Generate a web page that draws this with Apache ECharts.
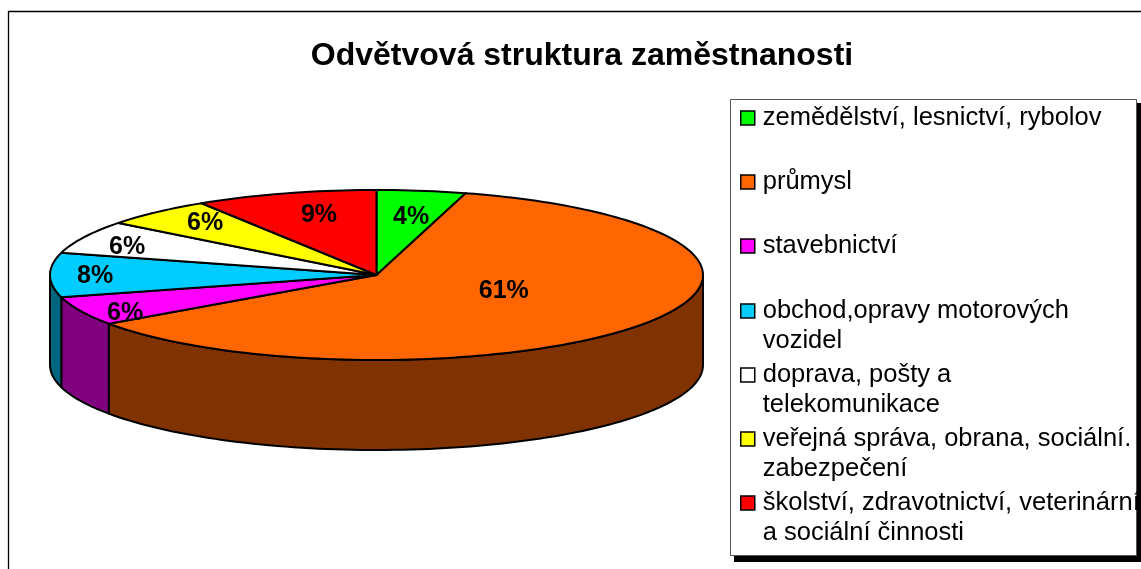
<!DOCTYPE html>
<html><head><meta charset="utf-8">
<style>html,body{margin:0;padding:0;background:#fff}#c{width:1141px;height:569px}</style>
<script src="https://cdn.jsdelivr.net/npm/echarts@6/dist/echarts.min.js"></script>
</head><body><div id="c"></div>
<script>
const titleText = 'Odvětvová struktura zaměstnanosti';
const categories = [
  'zemědělství, lesnictví, rybolov',
  'průmysl',
  'stavebnictví',
  'obchod,opravy motorových vozidel',
  'doprava, pošty a telekomunikace',
  'veřejná správa, obrana, sociální. zabezpečení',
  'školství, zdravotnictví, veterinární a sociální činnosti'
];
const legendLines = [
  ['zemědělství, lesnictví, rybolov'],
  ['průmysl'],
  ['stavebnictví'],
  ['obchod,opravy motorových', 'vozidel'],
  ['doprava, pošty a', 'telekomunikace'],
  ['veřejná správa, obrana, sociální.', 'zabezpečení'],
  ['školství, zdravotnictví, veterinární', 'a sociální činnosti']
];
const values = [4.4, 60.9, 5.5, 8.4, 6.3, 5.5, 9.0];
const topColors = ['#00ff00', '#ff6600', '#ff00ff', '#00ccff', '#ffffff', '#ffff00', '#ff0000'];
const sideColors = ['#008000', '#803300', '#800080', '#006680', '#808080', '#808000', '#800000'];

// layout and styling
const pie = { cx: 376.5, cy: 275, rx: 326.5, ry: 85, depth: 90 };
const labelPlace = [[0.106,-0.71],[0.39,0.155],[-0.77,0.415],[-0.862,-0.012],[-0.764,-0.36],[-0.525,-0.64],[-0.176,-0.735]];
const legendCentres = [118, 182, 246, 311, 375, 439, 503];
const LINE = 30, FONT = 'Liberation Sans, Arial, sans-serif';

const total = values.reduce((a, b) => a + b, 0);
const toAngle = v => v / total * 360;
const starts = values.map((_, i) => toAngle(values.slice(0, i).reduce((a, b) => a + b, 0)));
const pt = (deg, dy) => {
  const r = deg * Math.PI / 180;
  return [pie.cx + pie.rx * Math.sin(r), pie.cy - pie.ry * Math.cos(r) + (dy || 0)];
};
const arc = (a0, a1, dy) => {
  const out = [], n = Math.max(1, Math.ceil((a1 - a0) / 1.5));
  for (let k = 0; k <= n; k++) out.push(pt(a0 + (a1 - a0) * k / n, dy));
  return out;
};
const edge = { stroke: '#000', lineWidth: 2, lineJoin: 'round' };

function makeRender(i) {
  return function (params, api) {
    const a0 = starts[i], a1 = a0 + toAngle(api.value(0));
    const children = [];
    const s0 = Math.max(a0, 90), s1 = Math.min(a1, 270);
    if (s1 > s0) {
      children.push({ type: 'polygon', z2: 1,
        shape: { points: arc(s0, s1, 0).concat(arc(s0, s1, pie.depth).reverse()) },
        style: Object.assign({ fill: sideColors[i] }, edge) });
    }
    children.push({ type: 'polygon', z2: 2,
      shape: { points: [[pie.cx, pie.cy]].concat(arc(a0, a1, 0)) },
      style: Object.assign({ fill: topColors[i] }, edge) });
    children.push({ type: 'text', z2: 3,
      style: { text: Math.round(api.value(0) / total * 100) + '%',
        x: pie.cx + labelPlace[i][0] * pie.rx, y: pie.cy + labelPlace[i][1] * pie.ry + 2.5,
        align: 'center', verticalAlign: 'middle',
        font: 'bold 25px ' + FONT, fill: '#000' } });
    return { type: 'group', children };
  };
}

const chart = echarts.init(document.getElementById('c'), null, { renderer: 'canvas' });
chart.setOption({
  animation: false,
  backgroundColor: '#fff',
  title: { text: titleText, left: 582, top: 40, textAlign: 'center', padding: 0,
    textStyle: { fontFamily: FONT, fontWeight: 'bold', fontSize: 32, color: '#000' } },
  graphic: [
    { type: 'polyline', z: 0, shape: { points: [[8.5, 569], [8.5, 11.5], [1141, 11.5]] },
      style: { stroke: '#000', lineWidth: 1.3, fill: 'none' } },
    { type: 'rect', z: 0, shape: { x: 734, y: 103, width: 410, height: 459 }, style: { fill: '#000' } },
    { type: 'rect', z: 1, shape: { x: 730.5, y: 99.5, width: 406, height: 456 },
      style: { fill: '#fff', stroke: '#555', lineWidth: 1 } }
  ],
  legend: categories.map((name, i) => {
    const two = legendLines[i].length > 1;
    return {
      data: [name], orient: 'vertical', left: 740, padding: 0, z: 10,
      top: legendCentres[i] - (two ? LINE * 1.5 : LINE / 2),
      itemWidth: 14, itemHeight: 14, selectedMode: false,
      icon: 'rect',
      itemStyle: { borderColor: '#000', borderWidth: 1.5 },
      formatter: () => (two ? '\n' : '') + legendLines[i].join('\n'),
      textStyle: { fontFamily: FONT, fontSize: 25.5, color: '#000', lineHeight: LINE, padding: [0, 0, 0, 3] }
    };
  }),
  series: categories.map((name, i) => ({
    type: 'custom', name, coordinateSystem: 'none',
    itemStyle: { color: topColors[i] },
    data: [[values[i]]],
    renderItem: makeRender(i)
  }))
});
</script></body></html>
